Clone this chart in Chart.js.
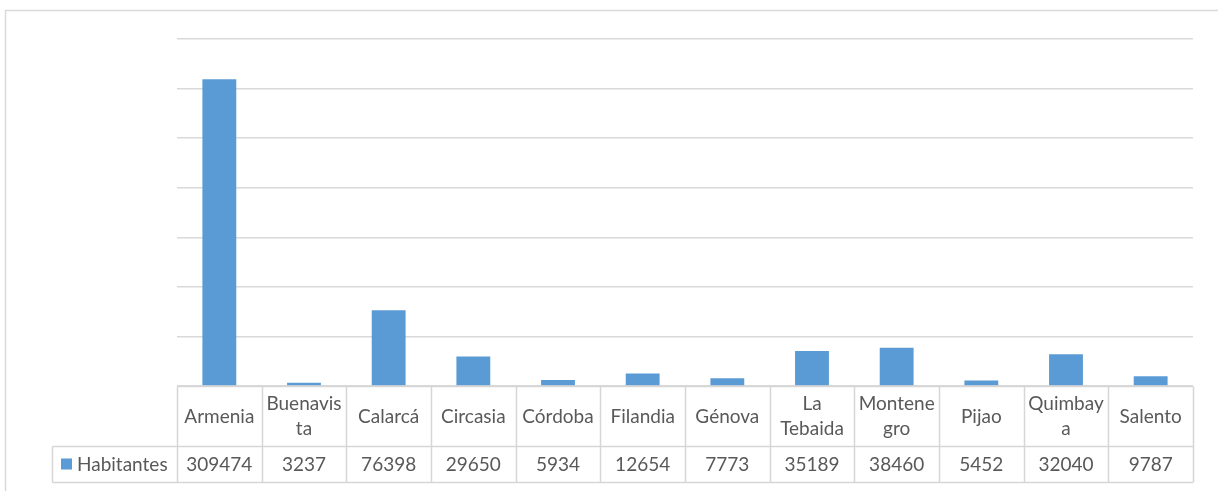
<!DOCTYPE html>
<html lang="es">
<head>
    <meta charset="UTF-8">
    <title>Habitantes por municipio</title>
    <style>
        html, body {
            margin: 0;
            padding: 0;
            background: #ffffff;
        }
        #wrap {
            position: relative;
            width: 1218px;
            height: 491px;
        }
    </style>
</head>
<body>
    <div id="wrap"><canvas id="chart" width="1218" height="491"></canvas></div>

    <script src="https://cdn.jsdelivr.net/npm/chart.js"></script>
    <script>
        // Datos del grafico
        const municipios = ['Armenia', 'Buenavista', 'Calarcá', 'Circasia', 'Córdoba', 'Filandia',
            'Génova', 'La Tebaida', 'Montenegro', 'Pijao', 'Quimbaya', 'Salento'];
        const habitantes = [309474, 3237, 76398, 29650, 5934, 12654, 7773, 35189, 38460, 5452, 32040, 9787];
        // lineas de texto tal como aparecen en la tabla de datos
        const etiquetas = [['Armenia'], ['Buenavis', 'ta'], ['Calarcá'], ['Circasia'], ['Córdoba'], ['Filandia'],
            ['Génova'], ['La', 'Tebaida'], ['Montene', 'gro'], ['Pijao'], ['Quimbay', 'a'], ['Salento']];
        const serie = 'Habitantes';
        const yMax = 350000;
        const yStep = 50000;

        const FONT = '19px Lato, "Open Sans", sans-serif';
        const TEXT = '#595959';
        const LINE = '#d9d9d9';
        const BLUE = '#5b9bd5';

        // Tabla de datos tipo Excel debajo del eje
        const dataTable = {
            id: 'dataTable',
            afterDraw(chart) {
                const ctx = chart.ctx;
                const x = chart.scales.x;
                const area = chart.chartArea;
                const half = (x.getPixelForValue(1) - x.getPixelForValue(0)) / 2;
                const top = Math.round(area.bottom) + 0.5;
                const mid = top + 60;
                const bot = mid + 36;
                const legLeft = 52.5;

                ctx.save();
                // marco del area del grafico
                ctx.strokeStyle = LINE;
                ctx.lineWidth = 1.5;
                ctx.beginPath();
                ctx.moveTo(5.5, 491);
                ctx.lineTo(5.5, 10.5);
                ctx.lineTo(1218, 10.5);
                ctx.stroke();

                ctx.lineWidth = 1.5;
                ctx.strokeStyle = '#d6d6d6';
                ctx.beginPath();
                ctx.moveTo(area.left, top);
                ctx.lineTo(area.right, top);
                ctx.moveTo(legLeft, mid);
                ctx.lineTo(area.right, mid);
                ctx.moveTo(legLeft, bot);
                ctx.lineTo(area.right, bot);
                ctx.moveTo(legLeft, mid);
                ctx.lineTo(legLeft, bot);
                for (let i = 0; i <= municipios.length; i++) {
                    const px = Math.round(x.getPixelForValue(i) - half) + 0.5;
                    ctx.moveTo(px, top);
                    ctx.lineTo(px, bot);
                }
                ctx.stroke();

                ctx.font = FONT;
                ctx.fillStyle = TEXT;
                ctx.textAlign = 'center';
                ctx.textBaseline = 'middle';
                const lh = 25;
                municipios.forEach((m, i) => {
                    const cx = x.getPixelForValue(i);
                    const lines = etiquetas[i];
                    const y0 = (top + mid) / 2 - (lines.length - 1) * lh / 2;
                    lines.forEach((t, k) => ctx.fillText(t, cx, y0 + k * lh));
                    ctx.fillText(String(habitantes[i]), cx, (mid + bot) / 2);
                });

                // leyenda
                const ly = (mid + bot) / 2;
                ctx.fillStyle = BLUE;
                ctx.fillRect(61, ly - 6, 11, 11);
                ctx.fillStyle = TEXT;
                ctx.textAlign = 'left';
                ctx.fillText(serie, 77, ly);
                ctx.restore();
            }
        };

        new Chart(document.getElementById('chart'), {
            type: 'bar',
            data: {
                labels: municipios,
                datasets: [{
                    label: serie,
                    data: habitantes,
                    backgroundColor: BLUE,
                    borderWidth: 0,
                    categoryPercentage: 1,
                    barPercentage: 0.4
                }]
            },
            options: {
                responsive: false,
                animation: false,
                layout: {
                    padding: { left: 177, right: 25, top: 39, bottom: 105 }
                },
                plugins: {
                    legend: { display: false },
                    tooltip: { enabled: false }
                },
                scales: {
                    x: {
                        display: false
                    },
                    y: {
                        min: 0,
                        max: yMax,
                        ticks: { display: false, stepSize: yStep },
                        border: { display: false },
                        grid: { color: LINE, lineWidth: 1.5, drawTicks: false }
                    }
                }
            },
            plugins: [dataTable]
        });
    </script>
</body>
</html>
